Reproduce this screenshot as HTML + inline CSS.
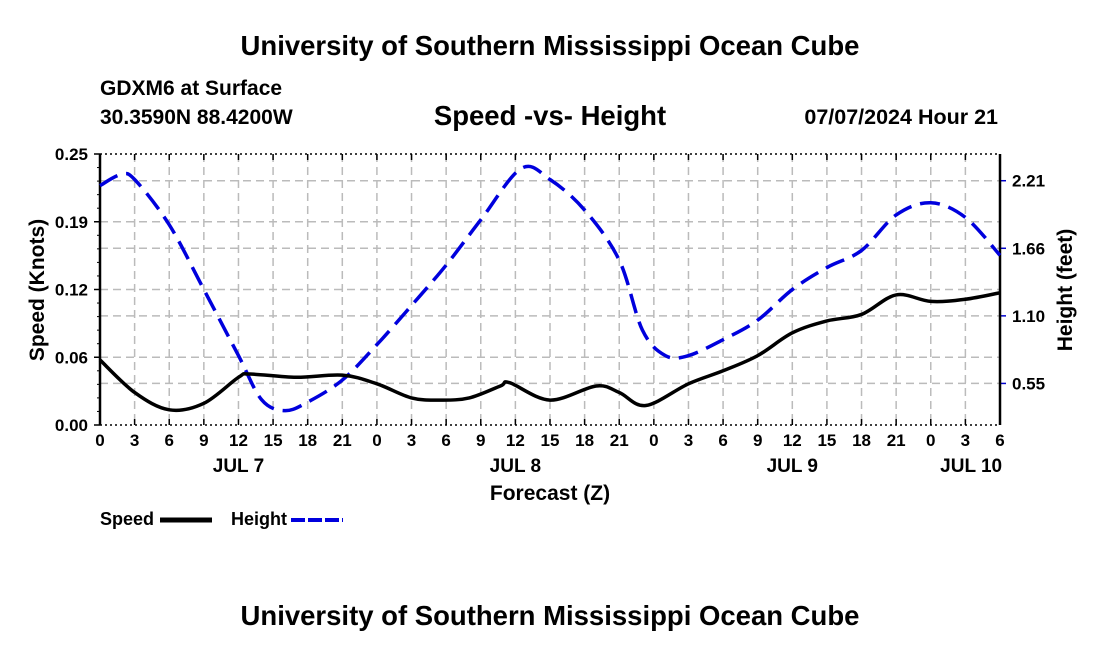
<!DOCTYPE html>
<html><head><meta charset="utf-8"><style>
body{margin:0;background:#fff}
svg{display:block;font-family:"Liberation Sans",sans-serif;font-weight:bold}
</style></head><body>
<svg id="c" width="1100" height="650">
<text x="550" y="55" text-anchor="middle" font-size="27.5">University of Southern Mississippi Ocean Cube</text>
<text x="100" y="95" font-size="21">GDXM6 at Surface</text>
<text x="100" y="124" font-size="21">30.3590N  88.4200W</text>
<text x="550" y="125" text-anchor="middle" font-size="27.5">Speed -vs- Height</text>
<text x="998" y="124" text-anchor="end" font-size="21.5">07/07/2024 Hour 21</text>
<text x="550" y="625" text-anchor="middle" font-size="27.5">University of Southern Mississippi Ocean Cube</text>
<g id="grid"></g><g id="axes"></g><g id="series"></g>
<text transform="translate(44,290) rotate(-90)" text-anchor="middle" font-size="21">Speed (Knots)</text>
<text transform="translate(1072,290) rotate(-90)" text-anchor="middle" font-size="21">Height (feet)</text>
<text x="550" y="500" text-anchor="middle" font-size="21">Forecast (Z)</text>
<g>
<text x="100" y="525" font-size="18">Speed</text>
<line x1="160" y1="520" x2="212" y2="520" stroke="#000" stroke-width="5"/>
<text x="231" y="525" font-size="18">Height</text>
<line x1="291" y1="520" x2="343" y2="520" stroke="#0000dd" stroke-width="4" stroke-dasharray="14,3"/>
</g>
</svg>
<script>
const speedHours=[0,3,6,9,12,13,17,21,24,27,29.5,32,34.7,35.5,39,43,45,47.3,51,54,57,60,63,66,69,72,75,78];
const speedVals=[0.060,0.030,0.014,0.020,0.044,0.047,0.044,0.046,0.038,0.025,0.023,0.025,0.036,0.039,0.023,0.036,0.030,0.018,0.038,0.050,0.064,0.085,0.096,0.102,0.120,0.114,0.116,0.122];
const heightHours=[0,1.8,3,6,9,12,14,16,18,21,24,27,30,33,36.5,39,42,45,47,49,51,54,57,60,63,66,69,72,75,78];
const heightVals=[2.17,2.26,2.22,1.85,1.32,0.78,0.42,0.33,0.40,0.58,0.87,1.19,1.52,1.89,2.31,2.22,1.97,1.56,0.99,0.78,0.78,0.91,1.07,1.32,1.50,1.64,1.93,2.03,1.91,1.60];
const xTickLabels=["0","3","6","9","12","15","18","21","0","3","6","9","12","15","18","21","0","3","6","9","12","15","18","21","0","3","6"];
const dayLabels=["JUL 7","JUL 8","JUL 9","JUL 10"];
const dayHours=[12,36,60,75.5];
const speedTicks=[0,0.0625,0.125,0.1875,0.25];
const speedTickLabels=["0.00","0.06","0.12","0.19","0.25"];
const heightTicks=[0.5525,1.105,1.6575,2.21];
const heightTickLabels=["0.55","1.10","1.66","2.21"];
const L=100,R=1000,T=154,B=425;
const X=h=>L+(R-L)*h/78;
const YS=v=>B-(B-T)*v/0.25;
const YH=v=>451-122.3*v;
const NS="http://www.w3.org/2000/svg";
function mk(p,t,a){const e=document.createElementNS(NS,t);for(const k in a)e.setAttribute(k,a[k]);p.appendChild(e);return e;}
const grid=document.getElementById('grid'),axes=document.getElementById('axes'),ser=document.getElementById('series');
xTickLabels.forEach((l,i)=>{const x=X(i*3);
 if(i>0&&i<26){const g=mk(grid,'line',{x1:x,x2:x,y1:T,y2:B,stroke:'#bbb','stroke-width':1.5,'stroke-dasharray':'8,5'});
 }
 mk(axes,'line',{x1:x,x2:x,y1:B,y2:B-6,stroke:'#000','stroke-width':1.5});
 mk(axes,'line',{x1:x,x2:x,y1:T,y2:T+6,stroke:'#000','stroke-width':1.5});
 const t=mk(axes,'text',{x:x,y:B+21,'text-anchor':'middle','font-size':17});t.textContent=l;
 });
mk(axes,'line',{x1:L,x2:R,y1:T,y2:T,stroke:'#000','stroke-width':1.5,'stroke-dasharray':'2,3'});
mk(axes,'line',{x1:L,x2:R,y1:B,y2:B,stroke:'#000','stroke-width':1.5,'stroke-dasharray':'2,3'});
dayLabels.forEach((l,i)=>{const t=mk(axes,'text',{x:X(dayHours[i]),y:B+47,'text-anchor':'middle','font-size':19});t.textContent=l;
 });
speedTicks.forEach((v,i)=>{const y=YS(v);
 if(i>0&&i<4){const g=mk(grid,'line',{x1:L,x2:R,y1:y,y2:y,stroke:'#bbb','stroke-width':1.5,'stroke-dasharray':'8,5'});}
 mk(axes,'line',{x1:L,x2:L-6,y1:y,y2:y,stroke:'#000','stroke-width':1.5});
 const t=mk(axes,'text',{x:L-12,y:y+6,'text-anchor':'end','font-size':17});t.textContent=speedTickLabels[i];
 });
for(let k=0;k<=20;k++){const y=YS(k*0.0125);mk(axes,'line',{x1:L,x2:L-3,y1:y,y2:y,stroke:'#000','stroke-width':1});}
heightTicks.forEach((v,i)=>{const y=YH(v);
 const g=mk(grid,'line',{x1:L,x2:R,y1:y,y2:y,stroke:'#bbb','stroke-width':1.5,'stroke-dasharray':'8,5'});
 mk(axes,'line',{x1:R,x2:R+6,y1:y,y2:y,stroke:'#0000cc','stroke-width':1.5});
 const t=mk(axes,'text',{x:R+12,y:y+6,'font-size':17});t.textContent=heightTickLabels[i];
 });
mk(axes,'line',{x1:L,x2:L,y1:T,y2:B,stroke:'#000','stroke-width':2.5});
mk(axes,'line',{x1:R,x2:R,y1:T,y2:B,stroke:'#000','stroke-width':2.5});
function smooth(pts){let d='M'+pts[0][0]+','+pts[0][1];
 for(let i=0;i<pts.length-1;i++){const p0=pts[i-1]||pts[i],p1=pts[i],p2=pts[i+1],p3=pts[i+2]||p2;
 d+=' C'+(p1[0]+(p2[0]-p0[0])/6)+','+(p1[1]+(p2[1]-p0[1])/6)+' '+(p2[0]-(p3[0]-p1[0])/6)+','+(p2[1]-(p3[1]-p1[1])/6)+' '+p2[0]+','+p2[1];}return d;}
const hp=mk(ser,'path',{d:smooth(heightHours.map((h,i)=>[X(h),YH(heightVals[i])])),fill:'none',stroke:'#0000dd','stroke-width':3.5,'stroke-dasharray':'20,9'});


const sp=mk(ser,'path',{d:smooth(speedHours.map((h,i)=>[X(h),YS(speedVals[i])])),fill:'none',stroke:'#000','stroke-width':3.5});


</script>
</body></html>
